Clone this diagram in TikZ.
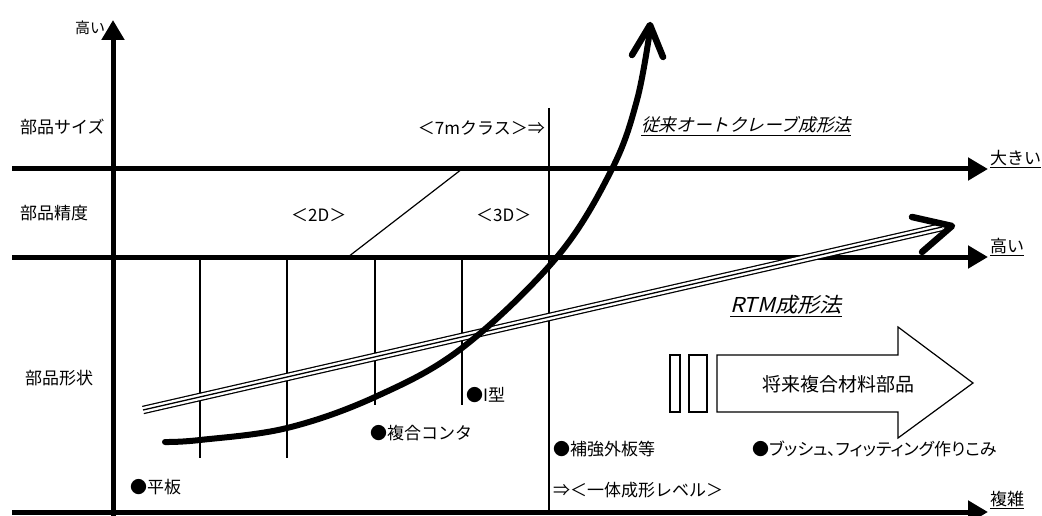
\documentclass[tikz,border=0pt]{standalone}
\usepackage{fontspec}
\setmainfont{Noto Sans CJK JP}
\newfontfamily\slfont[FakeSlant=0.25]{Noto Sans CJK JP}
\newfontfamily\slwfont[FakeSlant=0.25,FakeStretch=1.08]{Noto Sans CJK JP}
\newfontfamily\palfont[RawFeature=+palt]{Noto Sans CJK JP}
\usetikzlibrary{arrows.meta}
\tikzset{
  axis/.style={line width=5pt,-{Triangle[length=20pt,width=22pt]}},
  thin/.style={line width=1.2pt},
  lab/.style={inner sep=0pt,anchor=west,font=\fontsize{17}{20}\selectfont},
  chev/.style={line width=6.5pt,line cap=round,line join=round},
}
\begin{document}
\begin{tikzpicture}[x=1pt,y=-1pt]
\useasboundingbox (0,0) rectangle (1042,516);
% axes
\coordinate (vb) at (113,516);
\coordinate (vt) at (113,20);
\draw[axis] (vb) -- (vt);
\coordinate (h1a) at (12,169); \coordinate (h1b) at (988,169);
\coordinate (h2a) at (12,257); \coordinate (h2b) at (988,257);
\coordinate (h3a) at (12,512); \coordinate (h3b) at (988,512);
\draw[axis] (h1a) -- (h1b);
\draw[axis] (h2a) -- (h2b);
\draw[axis] (h3a) -- (h3b);
% thin vertical lines
\foreach \n/\x/\yb in {a/200/458,b/287/458,c/375/405,d/462/405}{
  \coordinate (t\n) at (\x,257); \coordinate (b\n) at (\x,\yb);
  \draw[thin] (t\n) -- (b\n);
}
\coordinate (te) at (549,108); \coordinate (be) at (549,512);
\draw[thin] (te) -- (be);
\coordinate (d1) at (348,257); \coordinate (d2) at (462,169);
\draw[thin] (d1) -- (d2);
% RTM triple line
\coordinate (r0) at (143,410);
\coordinate (r1) at (942,227);
\draw[line width=8.5pt] (r0) -- (r1);
\draw[line width=6pt,white,shorten <=-1pt] (r0) -- (r1);
\draw[line width=1.3pt] (r0) -- (r1);
\coordinate (rt) at (952,226);
\coordinate (ru) at (912,217);
\coordinate (rl) at (922,252);
\draw[chev] (ru) -- (rt) -- (rl);
% autoclave curve
\draw[line width=6pt,line cap=round] plot[smooth,tension=0.6] coordinates
 {(165,442) (200,440) (287,428) (375,397) (462,348) (557,257) (612,169) (637,100) (650,30)};
\coordinate (at) at (650,25);
\coordinate (al) at (632,55);
\coordinate (ar) at (663,57);
\draw[chev] (al) -- (at) -- (ar);
% block arrow
\draw[thin] (717,355) -- (898,355) -- (898,327) -- (973,383) -- (898,438) -- (898,412) -- (717,412) -- cycle;
\draw[thin] (670,355) rectangle (680,412);
\draw[thin] (689,355) rectangle (707,412);
\node[inner sep=0pt,font=\fontsize{19}{22}\selectfont] (fut) at (838,384) {将来複合材料部品};
% labels
\node[inner sep=0pt,font=\fontsize{15}{18}\selectfont] (hi1) at (90,28) {高い};
\node[lab] (l1) at (20,127) {部品サイズ};
\node[lab] (l2) at (20,213) {部品精度};
\node[lab] (l3) at (25,378) {部品形状};
\node[lab,anchor=east] (c7) at (545,128) {＜7mクラス＞⇒};
\node[lab,font=\fontsize{17.6}{20}\selectfont] (ac) at (641,126) {\slfont\underline{従来オートクレーブ成形法}};
\node[lab] (big) at (990,159) {\underline{大きい}};
\node[lab] (t2d) at (291,215) {＜2D＞};
\node[lab] (t3d) at (476,215) {＜3D＞};
\node[lab] (hi2) at (990,247) {\underline{高い}};
\node[lab,font=\fontsize{20.5}{24}\selectfont] (rtm) at (730,306) {\slwfont\underline{RTM成形法}};
\node[lab] (ik) at (466,395) {●I型};
\node[lab] (fk) at (370,433) {●複合コンタ};
\node[lab] (hb) at (130,487) {●平板};
\node[lab] (hk) at (553,449) {●補強外板等};
\node[lab] (it) at (553,490) {⇒＜一体成形レベル＞};
\node[lab,font=\fontsize{17}{20}\selectfont] (bs) at (752,449) {\palfont ●ブッシュ、フィッティング作りこみ};
\node[lab] (fz) at (990,500) {\underline{複雑}};
\end{tikzpicture}
\end{document}
